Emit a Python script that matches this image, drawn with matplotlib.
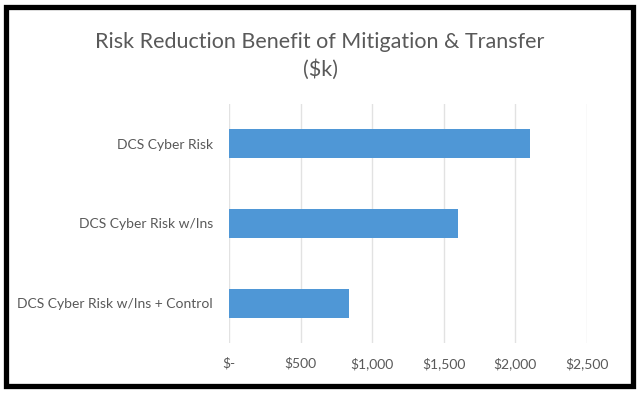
import matplotlib
matplotlib.use("Agg")
import matplotlib.pyplot as plt
from matplotlib.patches import Rectangle

categories = ["DCS Cyber Risk", "DCS Cyber Risk w/Ins", "DCS Cyber Risk w/Ins + Control"]
values = [2100, 1600, 840]
x_ticks = [0, 500, 1000, 1500, 2000, 2500]
x_tick_labels = ["$-", "$500", "$1,000", "$1,500", "$2,000", "$2,500"]

plt.rcParams['font.family'] = ['Lato', 'DejaVu Sans']
grey = "#595959"

fig = plt.figure(figsize=(6.4, 3.93), dpi=100)
ax = fig.add_axes([229/640, 1-343/393, (587-229)/640, (343-104)/393])

ax.barh(range(len(categories)), values, height=0.36, color="#4f97d6", zorder=3)
ax.set_ylim(-0.5, len(categories)-0.5)
ax.invert_yaxis()
ax.set_xlim(0, 2500)
ax.set_xticks(x_ticks)
ax.set_xticklabels(x_tick_labels)
ax.set_yticks(range(len(categories)))
ax.set_yticklabels(categories)
ax.tick_params(axis="both", length=0, labelsize=10, colors=grey)
ax.tick_params(axis="x", pad=10)
ax.tick_params(axis="y", pad=11.5)
ax.grid(axis="x", color="#e2e2e2", linewidth=1, zorder=0)
for s in ax.spines.values():
    s.set_visible(False)

fig.text(0.5, 1-42/393, "Risk Reduction Benefit of Mitigation & Transfer", ha="center", va="center",
         fontsize=15.5, color=grey)
fig.text(0.5, 1-70/393, "($k)", ha="center", va="center", fontsize=15.5, color=grey)

# outer black frame
fig.patches.append(Rectangle((5.5/640, 1-386/393), (633-5.5)/640, (386-7)/393,
                             transform=fig.transFigure, fill=False, edgecolor="black", linewidth=3.8))

fig.savefig("out.png", dpi=100)
